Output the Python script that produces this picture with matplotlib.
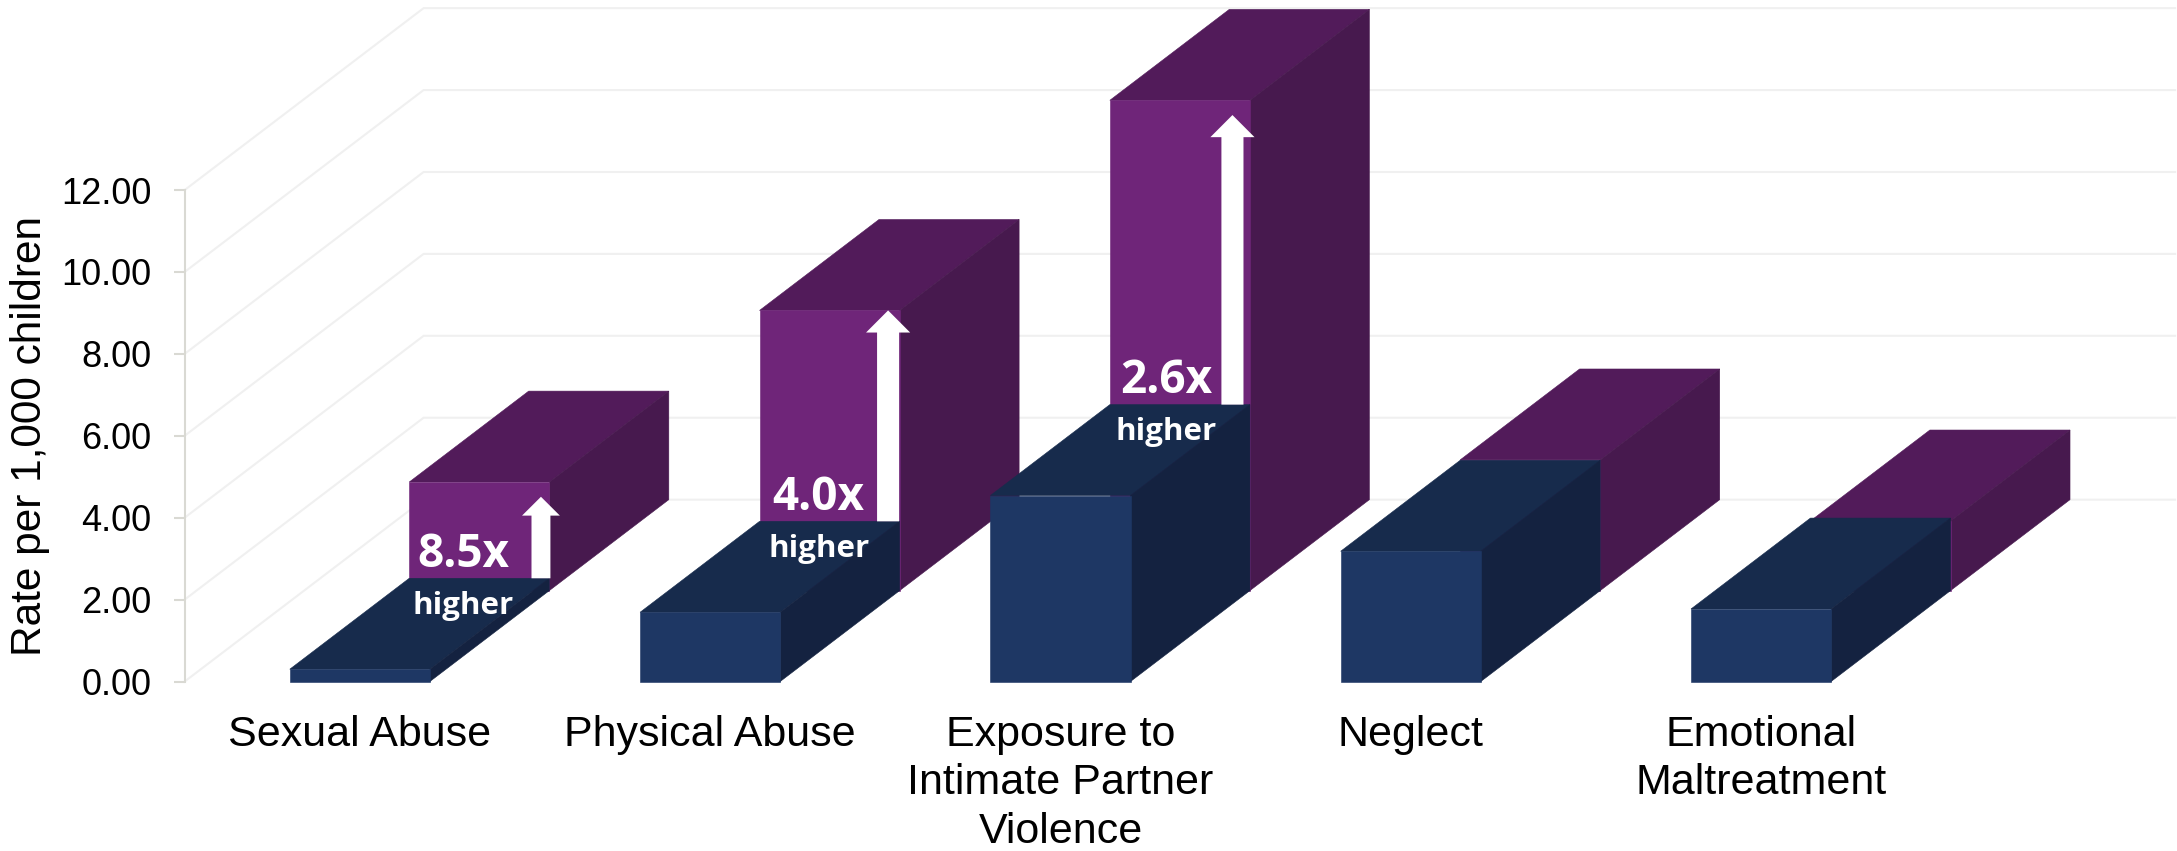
import matplotlib
matplotlib.use('Agg')
import matplotlib.pyplot as plt
from matplotlib.patches import Polygon

plt.rcParams['font.family'] = ['Liberation Sans', 'DejaVu Sans']

categories = ['Sexual Abuse', 'Physical Abuse', 'Exposure to\nIntimate Partner\nViolence',
              'Neglect', 'Emotional\nMaltreatment']
# front row (blue) and back row (purple), rate per 1,000
blue_values = [0.30, 1.69, 4.54, 3.18, 1.77]
purple_values = [2.65, 6.84, 11.97, 3.19, 1.70]
y_ticks = [0, 2, 4, 6, 8, 10, 12]
multiples = ['8.5x', '4.0x', '2.6x']

# fake 3d: one row of depth in data units
depth_x = 0.341
depth_y = 2.22
bar_width = 0.4

# callout placement per bar
arrow_x = [0.517, 0.508, 0.491]
arrow_gap = [0.36, 0.0, 0.36]
arrow_w = [0.054, 0.063, 0.063]
arrow_head = [0.46, 0.54, 0.54]
label_x = [0.296, 0.31, 0.302]

BLUE = ('#1E3764', '#172B4C', '#142240')
PURPLE = ('#6F2579', '#521B5A', '#47194E')
GRID = '#F0F0F0'
AXIS = '#D9D9D3'

fig = plt.figure(figsize=(21.77, 8.51), dpi=100)
ax = fig.add_axes([184.7 / 2177, (851 - 681.5) / 851, 1751.5 / 2177, 491.5 / 851])
ax.set_xlim(-0.5, 4.5)
ax.set_ylim(0, 12)


def draw_box(x, base, height, colors):
    # x, base = lower left corner of the front face
    left, right = x, x + bar_width
    top = base + height
    faces = [
        ([(left, top), (right, top), (right + depth_x, top + depth_y), (left + depth_x, top + depth_y)], colors[1]),
        ([(right, base), (right + depth_x, base + depth_y), (right + depth_x, top + depth_y), (right, top)], colors[2]),
        ([(left, base), (right, base), (right, top), (left, top)], colors[0]),
    ]
    for pts, c in faces:
        ax.add_patch(Polygon(pts, closed=True, fc=c, ec=c, lw=0.4, clip_on=False, zorder=2))


# walls
for v in y_ticks:
    ax.plot([-0.5, -0.5 + 2 * depth_x, 4.5 + 2 * depth_x], [v, v + 2 * depth_y, v + 2 * depth_y],
            color=GRID, lw=1.5, clip_on=False, zorder=1, solid_joinstyle='miter')

# bars, back row first
for i in range(len(categories)):
    x = i - bar_width / 2
    draw_box(x + depth_x, depth_y, purple_values[i], PURPLE)
    draw_box(x, 0, blue_values[i], BLUE)

# callouts on the first three purple bars
for i, label in enumerate(multiples):
    base = blue_values[i] + depth_y
    tip = purple_values[i] + depth_y - arrow_gap[i]
    ax.arrow(i + arrow_x[i], base, 0, tip - base, width=arrow_w[i], head_width=2 * arrow_w[i],
             head_length=arrow_head[i], length_includes_head=True, fc='white', ec='none',
             clip_on=False, zorder=5)
    ax.text(i + label_x[i], base + 0.58, label, color='white', family='Open Sans', weight='bold',
            fontsize=33, ha='center', va='center', zorder=6)
    ax.text(i + label_x[i], base - 0.68, 'higher', color='white', family='Open Sans', weight='bold',
            fontsize=22.5, ha='center', va='center', zorder=6)

ax.set_xticks(range(len(categories)))
ax.set_xticklabels(categories, linespacing=1.27)
ax.set_yticks(y_ticks)
ax.set_yticklabels([f'{v:.2f}' for v in y_ticks])
ax.tick_params(axis='x', length=0, pad=24, labelsize=31)
ax.tick_params(axis='y', length=8, width=1.5, color=AXIS, pad=16, labelsize=26)
ax.patch.set_alpha(0)
for side in ['top', 'right', 'bottom']:
    ax.spines[side].set_visible(False)
ax.spines['left'].set_color(AXIS)
ax.spines['left'].set_linewidth(1.5)

fig.text(30 / 2177, 1 - 436 / 851, 'Rate per 1,000 children', rotation=90, fontsize=30.5,
         ha='center', va='center')

fig.savefig('out.png', dpi=100)
